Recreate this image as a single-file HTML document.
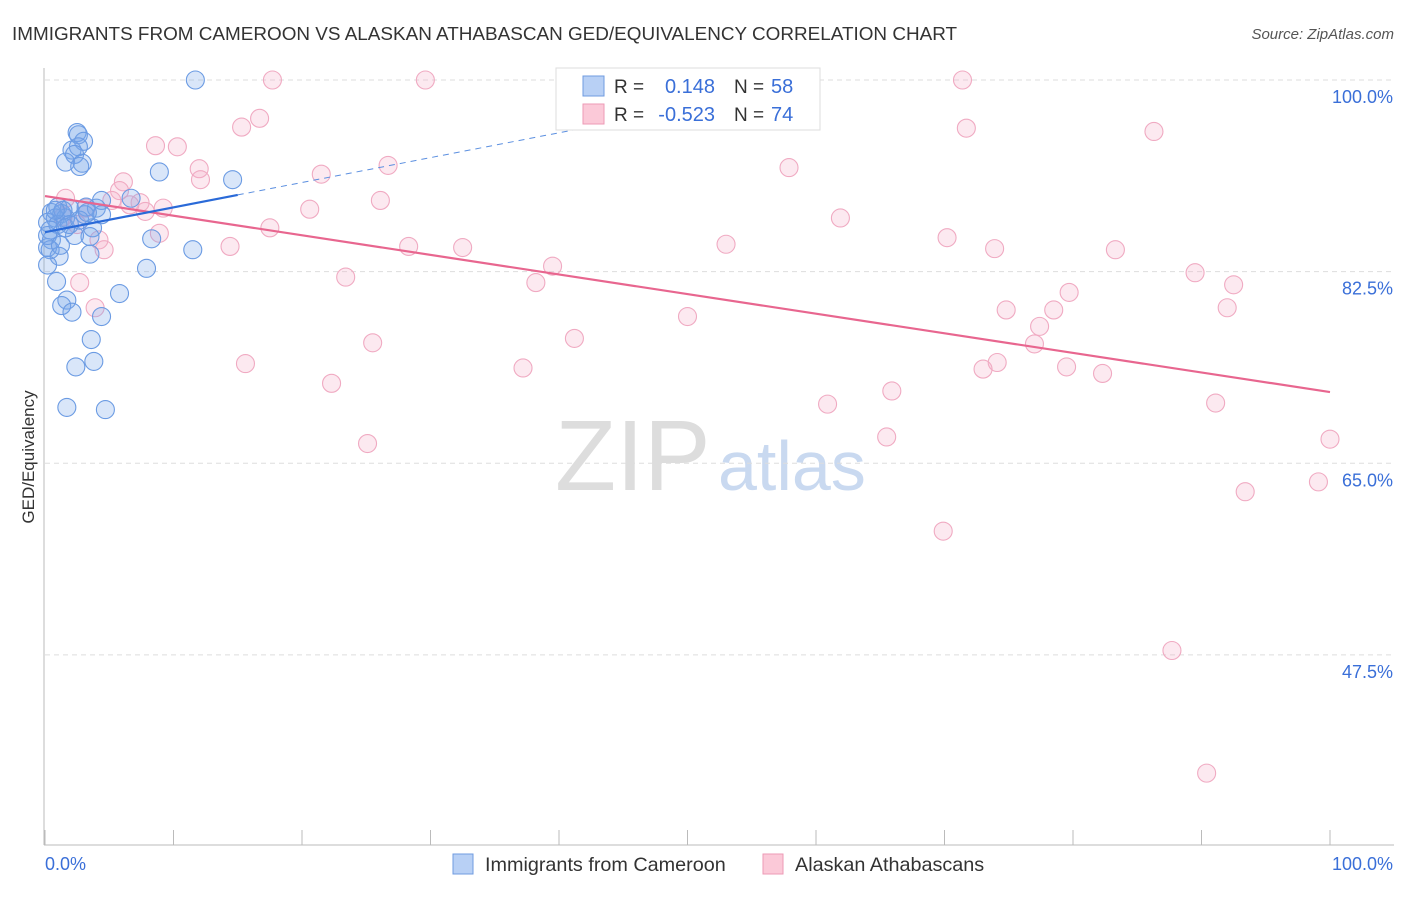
<!DOCTYPE html>
<html><head><meta charset="utf-8"><style>
body{margin:0;background:#fff;font-family:"Liberation Sans",sans-serif;}
svg text{font-family:"Liberation Sans",sans-serif;}
</style></head><body>
<svg id="c" width="1406" height="892">
<text x="12" y="40" font-size="18.9" fill="#333">IMMIGRANTS FROM CAMEROON VS ALASKAN ATHABASCAN GED/EQUIVALENCY CORRELATION CHART</text>
<text x="1394" y="39" font-size="15" font-style="italic" fill="#555" text-anchor="end">Source: ZipAtlas.com</text>
<text transform="translate(34,457) rotate(-90)" font-size="17" fill="#333" text-anchor="middle">GED/Equivalency</text>
<text x="555" y="490" font-size="100" fill="#ddd" font-family="Liberation Serif">ZIP</text>
<text x="718" y="490" font-size="70" fill="#c9d9f0">atlas</text>
<g id="grid"></g><g id="pts"></g><g id="lines"></g>
<g>
<rect x="556" y="68" width="264" height="62" fill="#fff" stroke="#ddd"/>
<rect x="583" y="76" width="21" height="20" fill="#b8d0f5" stroke="#6f9be0"/>
<rect x="583" y="104" width="21" height="20" fill="#fbc9d8" stroke="#ec9ab6"/>
<text x="614" y="93" font-size="19" fill="#333">R = </text><text x="715" y="93" font-size="20" fill="#3a6fd8" text-anchor="end">0.148</text>
<text x="734" y="93" font-size="19" fill="#333">N = </text><text x="771" y="93" font-size="20" fill="#3a6fd8">58</text>
<text x="614" y="121" font-size="19" fill="#333">R = </text><text x="715" y="121" font-size="20" fill="#3a6fd8" text-anchor="end">-0.523</text>
<text x="734" y="121" font-size="19" fill="#333">N = </text><text x="771" y="121" font-size="20" fill="#3a6fd8">74</text>
</g>
<text x="45" y="870" font-size="18" fill="#3a6fd8">0.0%</text>
<text x="1393" y="870" font-size="18" fill="#3a6fd8" text-anchor="end">100.0%</text>
<g>
<rect x="453" y="854" width="20" height="20" fill="#b8d0f5" stroke="#6f9be0"/>
<text x="485" y="871" font-size="19.8" fill="#333">Immigrants from Cameroon</text>
<rect x="763" y="854" width="20" height="20" fill="#fbc9d8" stroke="#ec9ab6"/>
<text x="795" y="871" font-size="19.8" fill="#333">Alaskan Athabascans</text>
</g>
</svg>
<script>
const yTicks=[100,82.5,65,47.5];
const yTickLabels=["100.0%","82.5%","65.0%","47.5%"];
const blueX=[11.7,2.5,2.6,3.0,2.1,2.6,2.3,1.6,2.9,2.7,14.6,8.9,4.4,6.7,3.2,1.0,1.9,4.0,0.5,1.3,4.4,0.8,1.6,0.2,1.0,3.7,0.4,2.3,3.5,8.3,0.5,0.2,11.5,3.5,1.1,0.4,0.2,7.9,0.9,5.8,1.7,1.3,2.1,4.4,3.6,3.8,2.4,1.7,4.7,3.1,1.4,1.9,0.8,1.6,2.7,0.2,1.2,3.3];
const blueY=[100,95.2,95.0,94.4,93.6,93.9,93.2,92.5,92.4,92.1,90.9,91.6,89.0,89.2,88.4,88.4,88.3,88.3,87.9,87.8,87.7,87.4,87.4,87.0,86.8,86.5,86.3,85.8,85.7,85.5,85.4,84.7,84.5,84.1,83.9,84.5,83.1,82.8,81.6,80.5,79.9,79.4,78.8,78.4,76.3,74.3,73.8,70.1,69.9,87.7,88.1,86.8,88.1,86.5,87.2,85.8,84.9,87.9];
const pinkX=[17.7,29.6,71.4,16.7,15.3,71.7,86.3,8.6,10.3,12.0,57.9,26.7,12.1,21.5,6.1,5.8,1.6,7.4,5.2,26.1,3.2,20.6,9.2,7.8,61.9,2.5,17.5,8.9,4.2,70.2,53.0,14.4,28.3,32.5,4.6,73.9,83.3,39.5,23.4,89.5,92.5,38.2,2.7,79.7,3.9,74.8,78.5,92.0,50.0,77.4,25.5,41.2,77.0,15.6,74.1,73.0,79.5,37.2,82.3,22.3,65.9,60.9,91.1,65.5,25.1,100,93.4,99.1,69.9,87.7,90.4,1.4,6.6];
const pinkY=[100,100,100,96.5,95.7,95.6,95.3,94.0,93.9,91.9,92.0,92.2,90.9,91.4,90.7,89.9,89.2,88.8,89.0,89.0,88.3,88.2,88.3,88.0,87.4,86.8,86.5,86.0,85.4,85.6,85.0,84.8,84.8,84.7,84.5,84.6,84.5,83.0,82.0,82.4,81.3,81.5,81.5,80.6,79.2,79.0,79.0,79.2,78.4,77.5,76.0,76.4,75.9,74.1,74.2,73.6,73.8,73.7,73.2,72.3,71.6,70.4,70.5,67.4,66.8,67.2,62.4,63.3,58.8,47.9,36.7,87.5,88.6];
const blueTrend=[86.1,0.227];
const pinkTrend=[89.4,-0.179];
const NS="http://www.w3.org/2000/svg";
const sx=v=>45+v*12.85, sy=v=>80+(100-v)*10.95;
function mk(t,a,p){const e=document.createElementNS(NS,t);for(const k in a)e.setAttribute(k,a[k]);p.appendChild(e);return e;}
const grid=document.getElementById('grid');
mk('line',{x1:44,y1:68,x2:44,y2:845,stroke:'#bbb'},grid);
mk('line',{x1:44,y1:845,x2:1394,y2:845,stroke:'#bbb'},grid);
for(let i=0;i<=10;i++){const l=mk('line',{x1:sx(i*10),y1:830,x2:sx(i*10),y2:845,stroke:'#bbb'},grid);

}
yTicks.forEach((v,i)=>{const g=mk('line',{x1:45,y1:sy(v),x2:1394,y2:sy(v),stroke:'#ddd','stroke-dasharray':'5,4'},grid);


const t=mk('text',{x:1393,y:sy(v)+23,'font-size':18,fill:'#3a6fd8','text-anchor':'end'},grid);t.textContent=yTickLabels[i];

});
const pts=document.getElementById('pts');
pinkX.forEach((x,i)=>{const c=mk('circle',{cx:sx(x),cy:sy(pinkY[i]),r:9,fill:'rgba(246,175,200,0.28)',stroke:'#f0aac2','stroke-width':1.1},pts);

});
blueX.forEach((x,i)=>{const c=mk('circle',{cx:sx(x),cy:sy(blueY[i]),r:9,fill:'rgba(120,165,235,0.28)',stroke:'#6b9be3','stroke-width':1.1},pts);

});
const ln=document.getElementById('lines');
const bt=x=>blueTrend[0]+blueTrend[1]*x, pt=x=>pinkTrend[0]+pinkTrend[1]*x;
const pl=mk('line',{x1:sx(0),y1:sy(pt(0)),x2:sx(100),y2:sy(pt(100)),stroke:'#e8668f','stroke-width':2.2},ln);


const bd=mk('line',{x1:sx(15),y1:sy(bt(15)),x2:sx(42),y2:sy(bt(42)),stroke:'#5b8fe0','stroke-width':1,'stroke-dasharray':'6,5'},ln);


const bl=mk('line',{x1:sx(0),y1:sy(bt(0)),x2:sx(15),y2:sy(bt(15)),stroke:'#2a6ad8','stroke-width':2.2},ln);


</script>
</body></html>
